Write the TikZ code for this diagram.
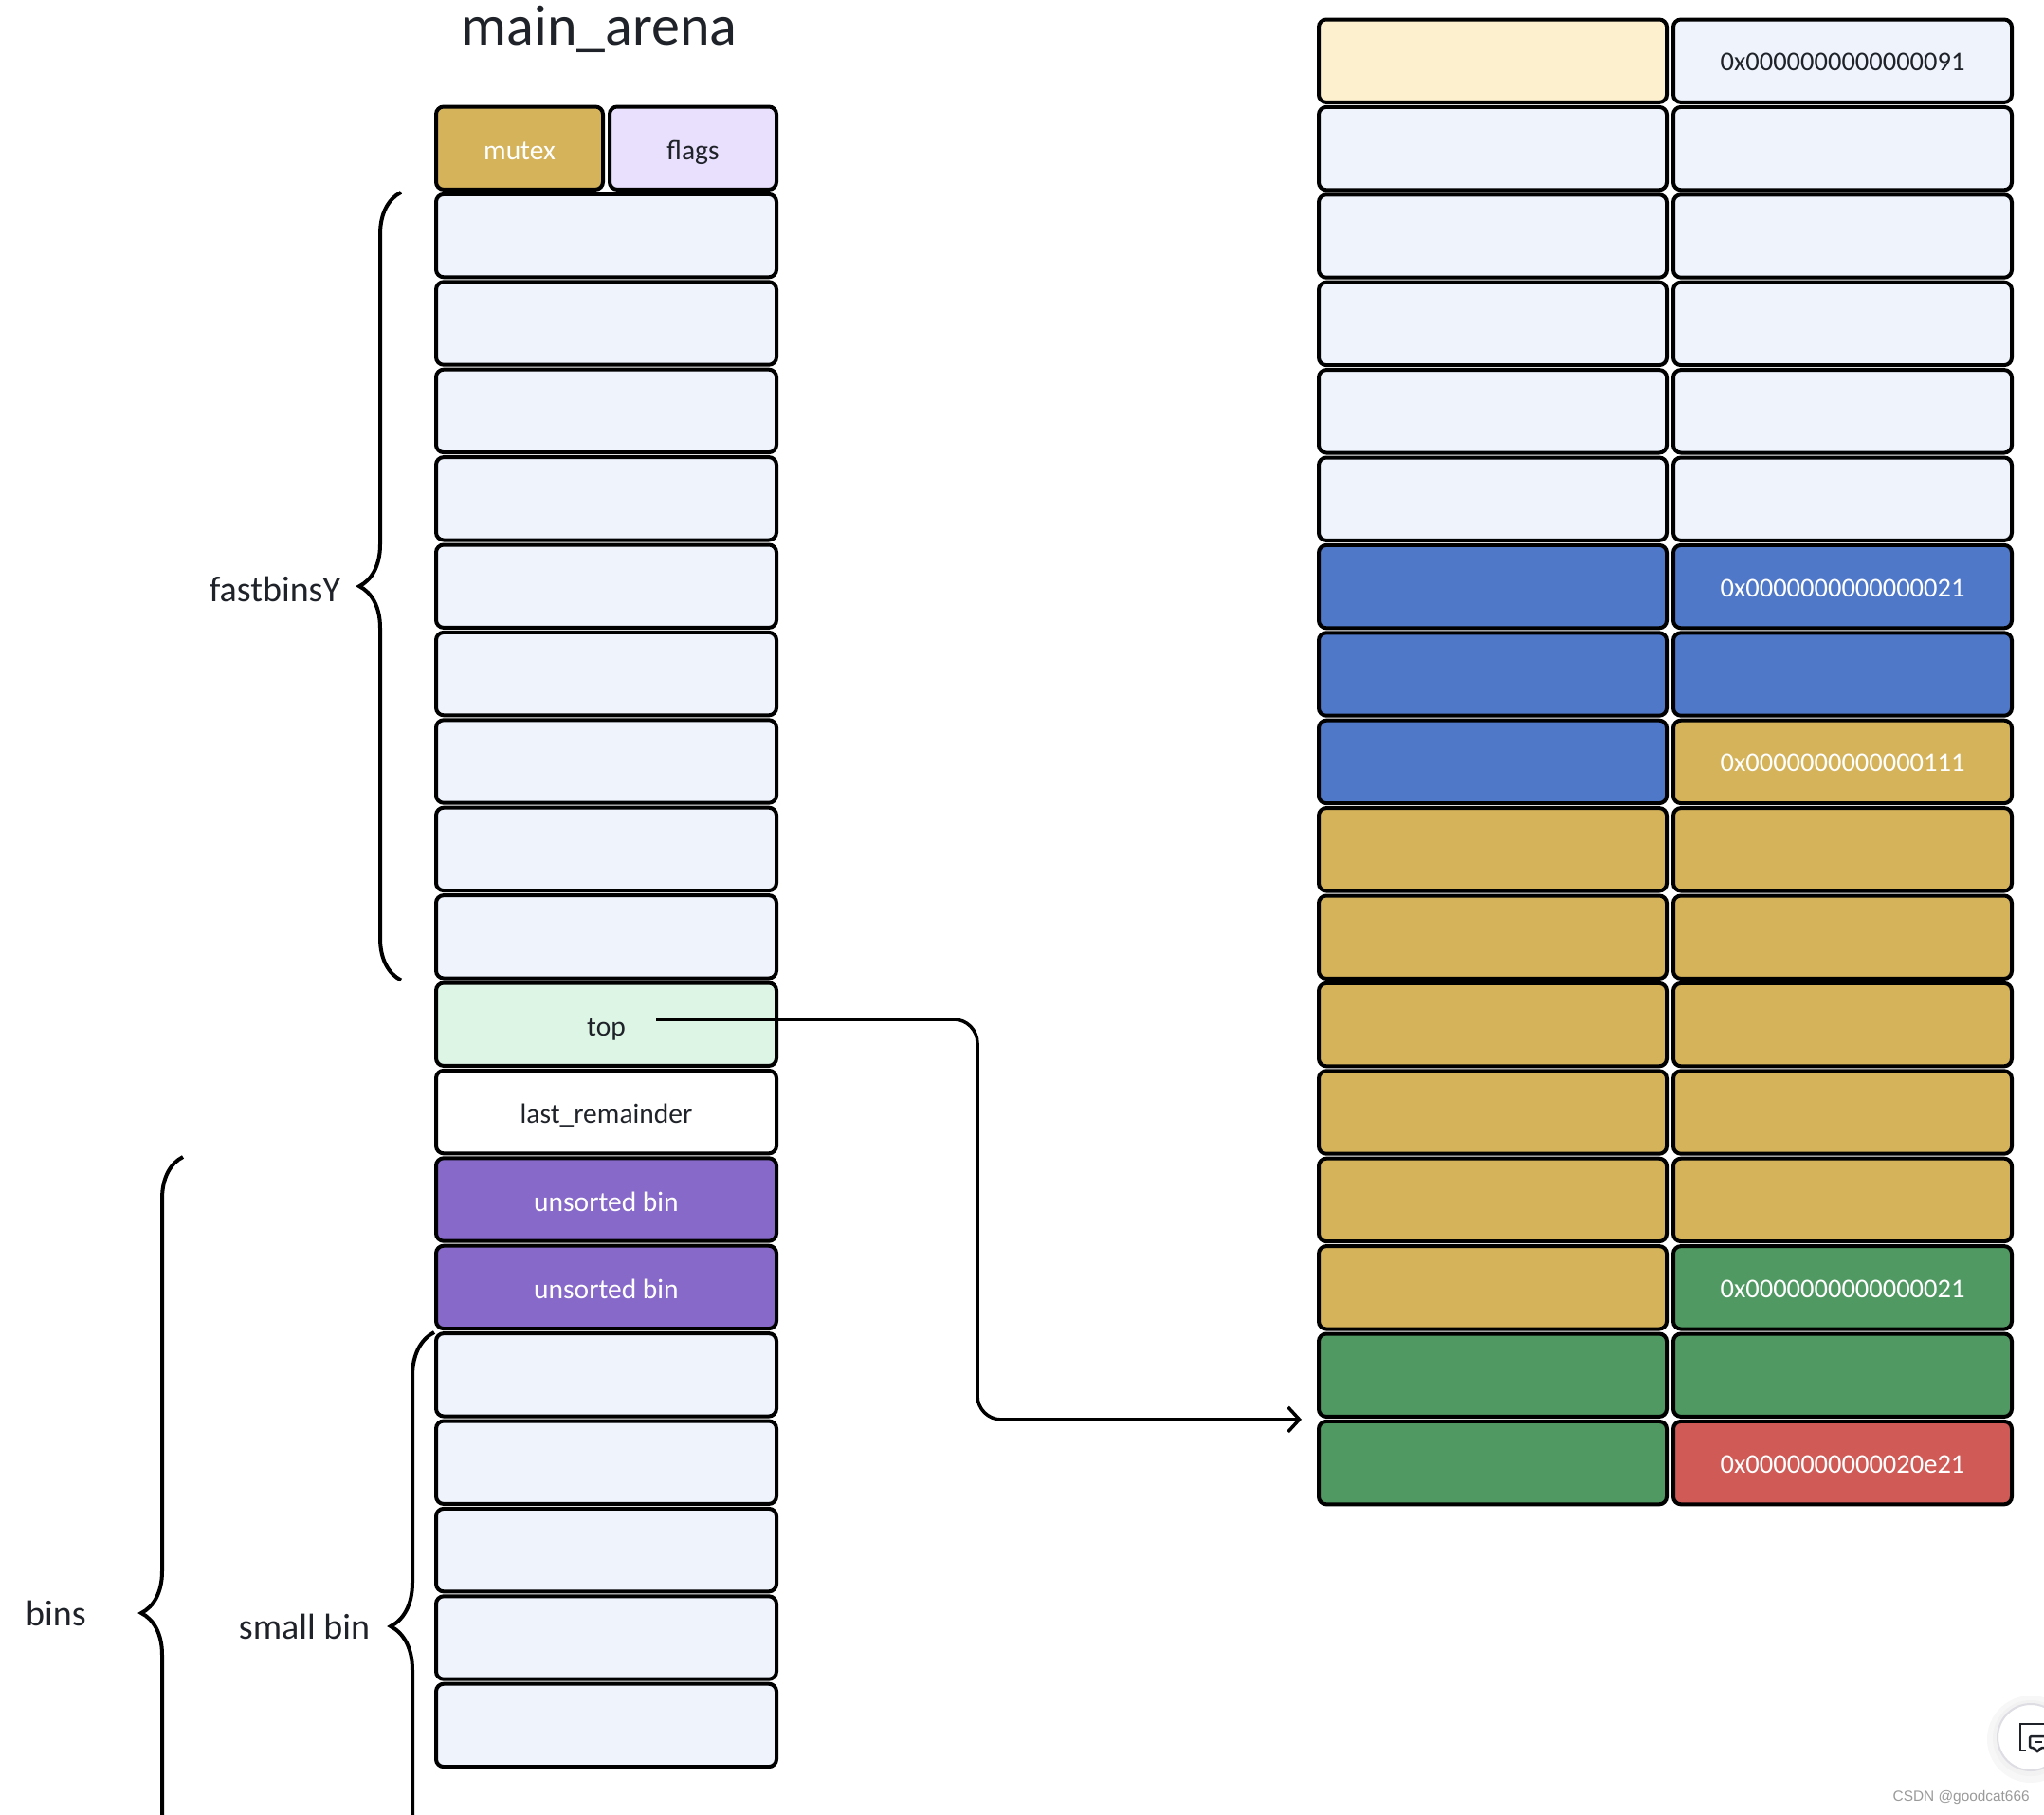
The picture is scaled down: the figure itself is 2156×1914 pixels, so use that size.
\documentclass[tikz,border=0pt]{standalone}
\usepackage{fontspec}
\setmainfont{Carlito}
\newfontfamily\markfont{Liberation Sans}
\usetikzlibrary{arrows.meta,decorations.pathreplacing}

\definecolor{ink}{HTML}{1F2329}
\definecolor{cellgray}{HTML}{EEF3FC}
\definecolor{heapgold}{HTML}{D4B35B}
\definecolor{heapblue}{HTML}{5078C8}
\definecolor{heapgreen}{HTML}{519963}
\definecolor{heapred}{HTML}{D05A56}
\definecolor{binviolet}{HTML}{8669C8}
\definecolor{cream}{HTML}{FDF0CF}
\definecolor{lavender}{HTML}{E9E0FD}
\definecolor{mint}{HTML}{DDF5E5}
\definecolor{markgray}{HTML}{9A9A9A}
\definecolor{ringgray}{HTML}{DDDDE3}

\begin{document}
\begin{tikzpicture}[x=1pt,y=-1pt,->,>={Straight Barb[length=12pt,width=26pt]},semithick]
  \tikzstyle{every node}=[inner sep=0pt]
  \tikzstyle{slot}=[draw=black,line width=4pt,rounded corners=8pt,fill=cellgray,text=ink,
                    font=\fontsize{29.5}{34}\selectfont,minimum height=87.4pt,
                    text height=24pt,text depth=0pt]
  \tikzstyle{wide}=[slot,minimum width=359pt]
  \tikzstyle{half}=[slot,minimum width=176pt]
  \tikzstyle{lcell}=[slot,minimum width=367pt]
  \tikzstyle{rcell}=[slot,minimum width=357pt]
  \tikzstyle{hex}=[font=\fontsize{28.5}{34}\selectfont,text height=21pt,text depth=0pt]
  \tikzstyle{brace}=[-,draw,line width=4pt,decorate,decoration={brace,amplitude=44pt}]
  \tikzstyle{side}=[text=ink,font=\fontsize{38}{44}\selectfont]

  \useasboundingbox (0,0) rectangle (2156,1914);
  \clip (0,0) rectangle (2156,1914);

  \node[text=ink,font=\fontsize{60}{70}\selectfont,anchor=base] (title) at (632,47) {main\_arena};

  % main_arena
  \node[half,fill=heapgold,text=white] (mutex) at (548,156.2) {mutex};
  \node[half,fill=lavender]            (flags) at (731,156.2) {flags};
  \foreach \i in {1,...,9}
    \node[wide] (fb\i) at (639.5,{156.2+92.4*\i}) {};
  \node[wide,fill=mint]                (top)     at (639.5,1080.2) {top};
  \node[wide,fill=white]               (lastrem) at (639.5,1172.6) {last\_remainder};
  \node[wide,fill=binviolet,text=white] (ub1)    at (639.5,1265)   {unsorted bin};
  \node[wide,fill=binviolet,text=white] (ub2)    at (639.5,1357.4) {unsorted bin};
  \foreach \i in {1,...,5}
    \node[wide] (sb\i) at (639.5,{1357.4+92.4*\i}) {};

  % heap chunks
  \foreach \j/\lc/\rc in {0/cream/cellgray,1/cellgray/cellgray,2/cellgray/cellgray,
      3/cellgray/cellgray,4/cellgray/cellgray,5/cellgray/cellgray,6/heapblue/heapblue,
      7/heapblue/heapblue,8/heapblue/heapgold,9/heapgold/heapgold,10/heapgold/heapgold,
      11/heapgold/heapgold,12/heapgold/heapgold,13/heapgold/heapgold,14/heapgold/heapgreen,
      15/heapgreen/heapgreen,16/heapgreen/heapred}
  {
    \node[lcell,fill=\lc] (l\j) at (1574.5,{64.2+92.4*\j}) {};
    \node[rcell,fill=\rc] (r\j) at (1943.5,{64.2+92.4*\j}) {};
  }
  \node[hex,text=ink]   (v0)  at (r0)  {0x0000000000000091};
  \node[hex,text=white] (v6)  at (r6)  {0x0000000000000021};
  \node[hex,text=white] (v8)  at (r8)  {0x0000000000000111};
  \node[hex,text=white] (v14) at (r14) {0x0000000000000021};
  \node[hex,text=white] (v16) at (r16) {0x0000000000020e21};

  % braces
  \draw[brace] ([xshift=-35pt]fb9.south west) -- ([xshift=-35pt]fb1.north west);
  \node[side] (fastlbl) at (290,621) {fastbinsY};
  \draw[brace] (193,2182) -- (193,1220);
  \node[side] (binslbl) at (59,1701) {bins};
  \draw[brace,decoration={brace,amplitude=46pt}] (458,2025) -- (458,1405);
  \node[side] (smalllbl) at (321,1715) {small bin};

  % top pointer
  \coordinate (topptr) at (692,1075);
  \draw[line width=3.5pt,rounded corners=25pt,shorten >=16pt] (topptr) -- (1031,1075) |- (l16.north west);

  % page widgets
  \fill[black!3] (2142,1834) circle (46);
  \fill[black!5] (2142,1833) circle (40);
  \node[circle,draw=ringgray,line width=2pt,fill=white,minimum size=70pt] (btn) at (2142,1832) {};
  \draw[-,ink,line width=2.5pt] (2137,1846) -- (2131,1846) -- (2131,1818) -- (2158,1818);
  \draw[-,ink,line width=2.5pt,fill=white,rounded corners=2pt]
    (2141,1831) -- (2160,1831) -- (2160,1843) -- (2152,1843) -- (2149,1848) -- (2146,1843) -- (2141,1843) -- cycle;
  \draw[-,ink,line width=2.5pt] (2146,1837) -- (2154,1837);
  \node[font=\markfont\fontsize{15.4}{18}\selectfont,text=markgray,anchor=east] (mark) at (2141,1895) {CSDN @goodcat666};
\end{tikzpicture}
\end{document}
